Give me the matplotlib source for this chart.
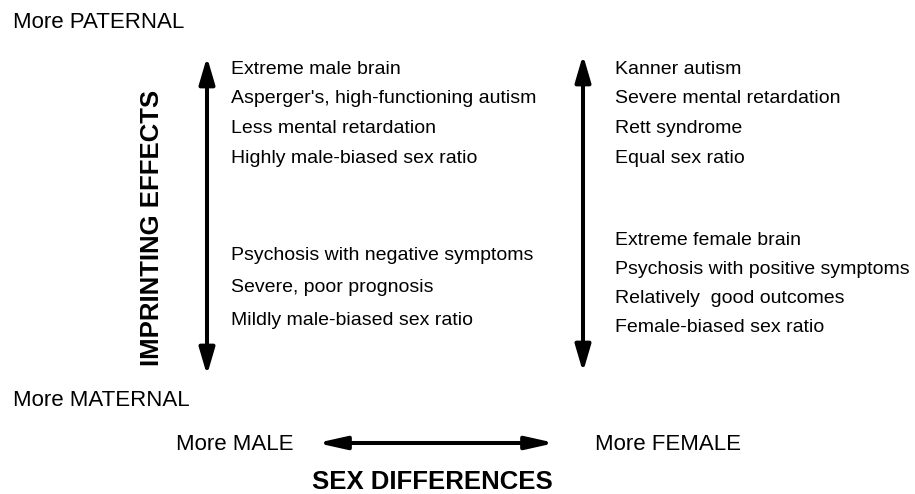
import matplotlib
matplotlib.use("Agg")
import matplotlib.pyplot as plt
from matplotlib.patches import FancyArrowPatch

plt.rcParams["font.family"] = ["Liberation Sans", "DejaVu Sans"]

# text blocks of the diagram
male_top = ["Extreme male brain", "Asperger's, high-functioning autism",
            "Less mental retardation", "Highly male-biased sex ratio"]
male_bottom = ["Psychosis with negative symptoms", "Severe, poor prognosis",
               "Mildly male-biased sex ratio"]
female_top = ["Kanner autism", "Severe mental retardation", "Rett syndrome",
              "Equal sex ratio"]
female_bottom = ["Extreme female brain", "Psychosis with positive symptoms",
                 "Relatively  good outcomes", "Female-biased sex ratio"]

pole_labels = ["More PATERNAL", "More MATERNAL", "More MALE", "More FEMALE"]
axis_titles = ["IMPRINTING EFFECTS", "SEX DIFFERENCES"]

fig = plt.figure(figsize=(9.15, 4.94), dpi=100)
ax = fig.add_axes([0, 0, 1, 1])
ax.set_xlim(0, 915)
ax.set_ylim(494, 0)
ax.axis("off")

body = 14
pole = 16


def block(lines, x, y0, step):
    for i, s in enumerate(lines):
        ax.text(x, y0 + i * step, s, fontsize=body, ha="left", va="center")


block(male_top, 231, 69, 29.7)
block(male_bottom, 231, 255, 32.5)
block(female_top, 615, 69, 29.7)
block(female_bottom, 615, 240, 29.3)


def arrow(p0, p1, hl, hw):
    a = FancyArrowPatch(p0, p1, arrowstyle=f"<|-|>,head_length={hl},head_width={hw}",
                        mutation_scale=1, lw=2.9, color="black",
                        shrinkA=0, shrinkB=0)
    ax.add_patch(a)


arrow((207, 375), (207, 57), 16, 4.7)
arrow((583, 372), (583, 55), 16, 4.7)
arrow((317, 443), (555, 443), 17, 3.8)

ax.text(13, 22, pole_labels[0], fontsize=pole, ha="left", va="center")
ax.text(13, 400, pole_labels[1], fontsize=pole, ha="left", va="center")
ax.text(293, 444, pole_labels[2], fontsize=pole, ha="right", va="center")
ax.text(595, 444, pole_labels[3], fontsize=pole, ha="left", va="center")

ax.text(152, 228, axis_titles[0], fontsize=18.5, fontweight="bold",
        rotation=90, ha="center", va="center")
ax.text(432, 482, axis_titles[1], fontsize=18.5, fontweight="bold",
        ha="center", va="center")

fig.savefig("out.png", dpi=100)
